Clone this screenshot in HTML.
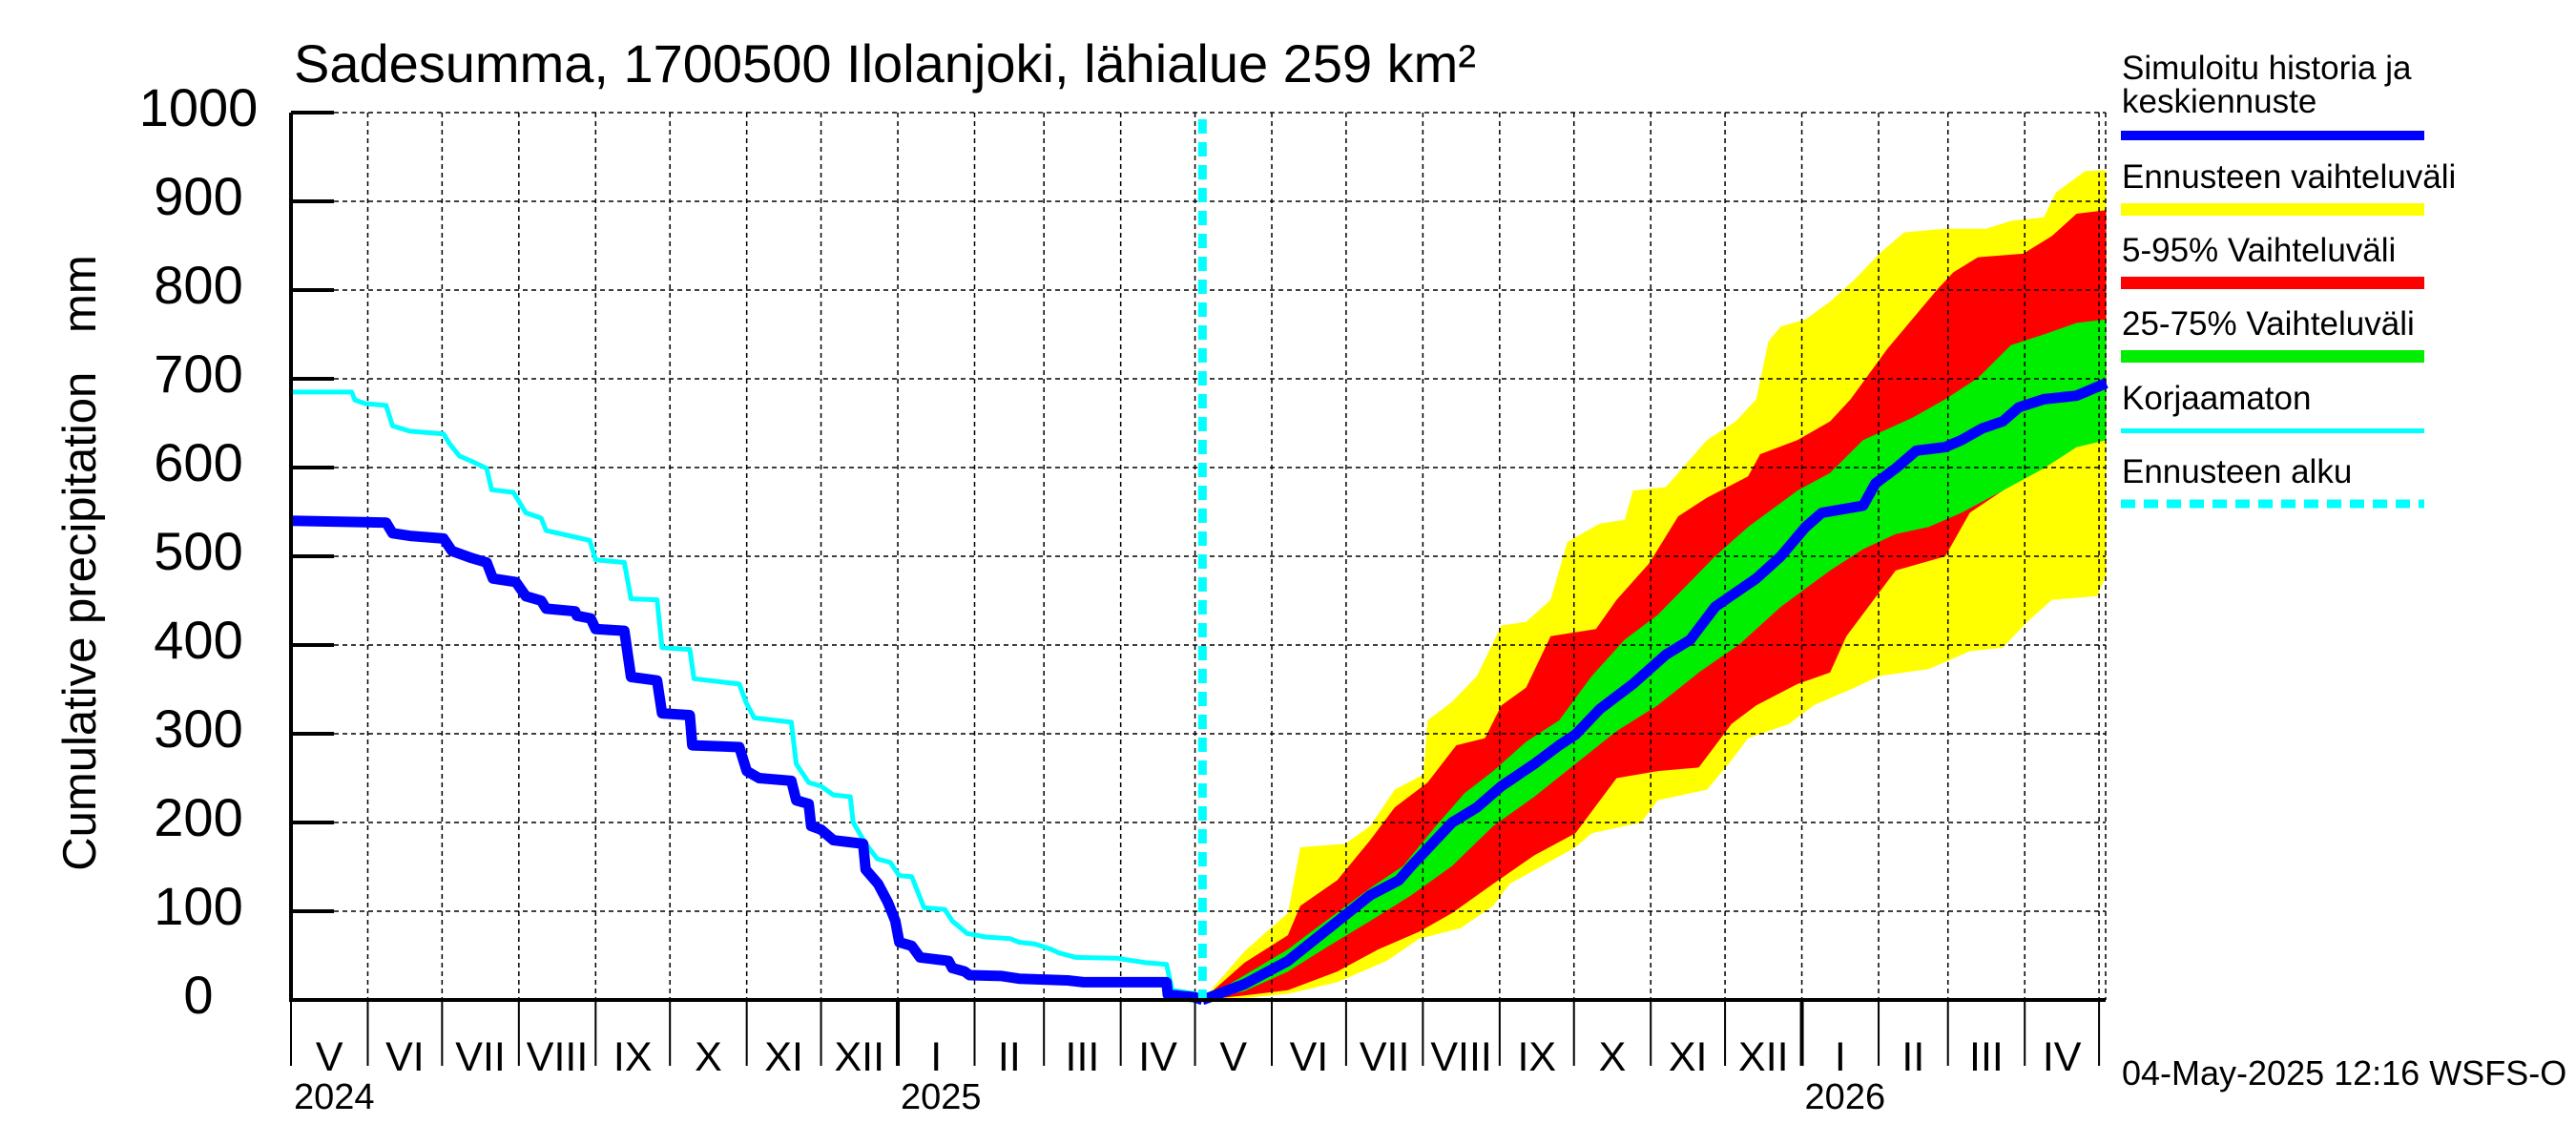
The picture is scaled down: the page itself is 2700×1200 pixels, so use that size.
<!DOCTYPE html>
<html><head><meta charset="utf-8"><style>
html,body{margin:0;padding:0;background:#fff;}
svg{display:block;font-family:"Liberation Sans",Arial,sans-serif;}
</style></head><body>
<svg id="chart" width="2700" height="1200" viewBox="0 0 2700 1200" xmlns="http://www.w3.org/2000/svg">
<rect x="0" y="0" width="2700" height="1200" fill="#fff"/>
<g id="bands"></g>
<g id="grid"></g>
<g id="lines"></g>
<g id="axes"></g>
<text x="308" y="86" font-size="56">Sadesumma, 1700500 Ilolanjoki, lähialue 259 km²</text>
<text transform="translate(100,590) rotate(-90)" text-anchor="middle" font-size="49" xml:space="preserve">Cumulative precipitation   mm</text>
<g id="legend">
<text x="2224" y="83" font-size="35">Simuloitu historia ja</text>
<text x="2224" y="118" font-size="35">keskiennuste</text>
<rect x="2223" y="137" width="318" height="10" fill="#0000ff"/>
<text x="2224" y="197" font-size="35">Ennusteen vaihteluväli</text>
<rect x="2223" y="213" width="318" height="13" fill="#ffff00"/>
<text x="2224" y="274" font-size="35">5-95% Vaihteluväli</text>
<rect x="2223" y="290" width="318" height="13" fill="#ff0000"/>
<text x="2224" y="351" font-size="35">25-75% Vaihteluväli</text>
<rect x="2223" y="367" width="318" height="13" fill="#00ee00"/>
<text x="2224" y="429" font-size="35">Korjaamaton</text>
<rect x="2223" y="449" width="318" height="5" fill="#00ffff"/>
<text x="2224" y="506" font-size="35">Ennusteen alku</text>
<line x1="2223" y1="528" x2="2541" y2="528" stroke="#00ffff" stroke-width="9" stroke-dasharray="15,9"/>
</g>
<text x="2224" y="1137" font-size="36">04-May-2025 12:16 WSFS-O</text>
</svg>
<script>
// days since 2024-05-01
const histDays = [0,38.4,41,48,61.6,65,73,79,81.5,90.8,94.8,101,103,114.7,115.4,121,123,134.6,137.3,147.8,149.8,161,162,181,184,189,202,204,209,210,214,219,231,232,237,241,244,245.6,250.6,254,265.5,267,272,274,287,294,313.6,320,353.5,354,365,368];
const histVals = [540,538,526,523,520,506,498,493,475,471,455,450,441,438,433,430,418,416,364,360,323,321,287,285,258,250,247,225,221,196,192,180,176,147,131,110,89,65,61,48,44,36,32,28,27,24,22,20,20,6,3,0];
const rawDays = [0,24.5,25.8,30,38.4,41,48,61.6,64,68,73,79,81,89.8,94.8,101,103,120.6,123,134.6,137.3,147.8,149.8,161,162.7,181,183.6,187,202,204,209,214,219,225.8,227,232,236.7,242,245.6,250.6,255.6,264,267,273,280.5,290.4,294,300.4,307,310,317,333.6,345,353.5,355.8,365,368];
const rawVals = [685,685,676,672,670,647,641,638,627,613,607,599,575,572,549,543,529,518,496,493,452,451,397,395,362,356,336,318,313,266,245,241,231,229,200,176,159,155,140,139,104,102,89,75,71,69,65,63,57,53,48,47,42,40,11,7,1];
const yellowTopDays = [368,385,402.5,407.5,425.7,435.7,445.6,457.2,458.9,468.8,478.8,488.7,498.7,508.6,515.3,528.5,538.5,541.8,555.1,561.7,571.7,583.3,591.6,596.5,601.5,611.5,621.4,631.4,641.3,651.3,667.9,684.4,694.4,707.7,712.6,724.3,732.9];
const yellowTop = [0,55,98,172,176,196,237,254,315,336,365,422,426,451,516,537,541,574,578,599,631,652,677,742,759,767,787,812,841,865,869,869,878,882,910,934,935];
const redTopDays = [368,385,402.5,407.5,422.4,435.7,445.6,458.9,470.5,482.1,488.7,498.7,508.6,526.9,535.2,548.4,560.1,571.7,588.3,593.2,608.2,621.4,629.7,644.6,664.5,671.2,681.1,699.4,711,720.9,732.9];
const redTop = [0,42,73,106,135,180,217,245,287,295,332,352,410,418,451,492,545,566,590,615,631,652,677,734,800,820,837,841,861,886,890];
const greenTopDays = [368,385,402.5,415.8,435.7,449,462.2,473.8,485.4,498.7,512,525.2,538.5,551.8,563.4,575,588.3,608.2,621.4,634.7,654.6,667.9,681.1,694.4,707.7,720.9,732.9];
const greenTop = [0,28,57,85,126,151,196,233,258,291,315,365,406,434,467,500,533,574,594,631,656,677,701,738,750,763,767];
const greenBotDays = [368,385,402.5,419.1,435.7,452.3,468.8,485.4,502,518.6,535.2,551.8,568.4,584.9,601.5,621.4,634.7,647.9,661.2,674.5,691.1,707.7,720.9,732.9];
const greenBot = [0,10,32,61,89,118,151,196,229,266,303,332,369,401,443,484,508,525,533,549,574,599,623,631];
const redBotDays = [368,385,402.5,422.4,439,455.6,468.8,485.4,502,518.6,535.2,551.8,568.4,581.6,591.6,608.2,621.4,628,647.9,667.9,677.8,691.1,704.3,714.3,732.9];
const redBot = [0,5,11,32,57,77,98,131,163,188,250,258,262,311,332,356,369,410,484,500,549,574,599,619,635];
const yellowBotDays = [368,385,402.5,422.4,442.3,455.6,472.2,485.4,492.1,518.6,525.2,545.1,551.8,571.7,581.6,588.3,604.8,614.8,631.4,641.3,661.2,667.9,677.8,691.1,701,711,729.2,732.9];
const yellowBot = [0,2,7,20,44,69,81,106,131,172,188,200,225,237,270,295,311,332,352,365,373,381,393,397,426,451,455,479];
const medianDays = [368,385,402.5,419.1,435.7,447.3,452.3,468.8,478.8,488.7,502,512,518.6,528.5,541.8,555.1,565,575,583.3,591.6,601.5,611.5,618.1,634.7,639.7,647.9,656.2,667.9,674.5,682.8,691.1,697.7,707.7,720.9,732.9];
const medianVals = [0,18,44,81,118,135,151,200,217,241,266,287,299,328,356,389,406,443,459,475,500,533,549,557,582,599,619,623,631,644,652,668,677,681,695];
const yTicks = [0,100,200,300,400,500,600,700,800,900,1000];
const monthLabels = ["V","VI","VII","VIII","IX","X","XI","XII","I","II","III","IV","V","VI","VII","VIII","IX","X","XI","XII","I","II","III","IV"];
const yearLabels = ["2024","2025","2026"];
const forecastStartDay = 368;

const NS="http://www.w3.org/2000/svg";
const X0=305, X1=2207, PXD=2.596, Y0=1048, PXV=0.93;
const xs=d=>X0+d*PXD;
const ys=v=>Y0-v*PXV;
function mk(tag,attrs,parent){const e=document.createElementNS(NS,tag);for(const k in attrs)e.setAttribute(k,attrs[k]);parent.appendChild(e);return e;}
const bands=document.getElementById('bands'),grid=document.getElementById('grid'),lines=document.getElementById('lines'),axes=document.getElementById('axes');
function poly(td,tv,bd,bv,color,name){
  const pts=[];
  for(let i=0;i<td.length;i++)pts.push(xs(td[i]).toFixed(1)+','+ys(tv[i]).toFixed(1));
  for(let i=bd.length-1;i>=0;i--)pts.push(xs(bd[i]).toFixed(1)+','+ys(bv[i]).toFixed(1));
  const p=mk('polygon',{points:pts.join(' '),fill:color},bands);
  
  
}
poly(yellowTopDays,yellowTop,yellowBotDays,yellowBot,'#ffff00','band-full-range');
poly(redTopDays,redTop,redBotDays,redBot,'#ff0000','band-5-95');
poly(greenTopDays,greenTop,greenBotDays,greenBot,'#00ee00','band-25-75');

const start=Date.UTC(2024,4,1);
const bounds=[];
for(let m=0;m<=24;m++){bounds.push((Date.UTC(2024,4+m,1)-start)/86400000);}
yTicks.forEach(v=>{
  if(v===0)return;
  const l=mk('line',{x1:X0,x2:X1,y1:ys(v),y2:ys(v),stroke:'#000','stroke-width':1.5,'stroke-dasharray':'5,4'},grid);
  
  
});
bounds.forEach((d,i)=>{
  if(i===0)return;
  const x=Math.min(xs(d),X1);
  const l=mk('line',{x1:x,x2:x,y1:ys(1000),y2:Y0,stroke:'#000','stroke-width':1.5,'stroke-dasharray':'5,4'},grid);
  
  
});
{const l=mk('line',{x1:X1,x2:X1,y1:ys(1000),y2:Y0,stroke:'#000','stroke-width':1.5,'stroke-dasharray':'5,4'},grid);

}

function line(days,vals,color,w,name){
  const pts=days.map((d,i)=>xs(d).toFixed(1)+','+ys(vals[i]).toFixed(1)).join(' ');
  const p=mk('polyline',{points:pts,fill:'none',stroke:color,'stroke-width':w,'stroke-linejoin':'round'},lines);
  
  
}
line(rawDays,rawVals,'#00ffff',5,'uncorrected-line');
line(histDays,histVals,'#0000ff',11,'simulated-history-line');
line(medianDays,medianVals,'#0000ff',11,'median-forecast-line');
{const l=mk('line',{x1:xs(forecastStartDay),x2:xs(forecastStartDay),y1:125,y2:Y0,stroke:'#00ffff','stroke-width':9,'stroke-dasharray':'15,9'},lines);

}

{const a=mk('line',{x1:X0,x2:X0,y1:ys(1000),y2:Y0+2,stroke:'#000','stroke-width':4},axes);


const b=mk('line',{x1:X0-2,x2:X1,y1:Y0,y2:Y0,stroke:'#000','stroke-width':4},axes);

}
yTicks.forEach(v=>{
  const t=mk('line',{x1:X0,x2:350,y1:ys(v),y2:ys(v),stroke:'#000','stroke-width':4},axes);
  
  
  const tx=mk('text',{x:208,y:ys(v)+14,'font-size':56,'text-anchor':'middle'},axes);
  tx.textContent=String(v);
  
  
});
bounds.forEach((d,i)=>{
  const x=Math.min(xs(d),X1);
  const isYear=(i===8||i===20);
  const t=mk('line',{x1:x,x2:x,y1:Y0,y2:1117,stroke:'#000','stroke-width':isYear?4:2},axes);
  
  
  if(i<monthLabels.length){
    const cx=(xs(d)+Math.min(xs(bounds[i+1]),X1))/2;
    const tx=mk('text',{x:cx,y:1122,'font-size':43,'text-anchor':'middle'},axes);
    tx.textContent=monthLabels[i];
    
    
  }
});
[0,8,20].forEach((bi,k)=>{
  const tx=mk('text',{x:xs(bounds[bi])+3,y:1162,'font-size':38},axes);
  tx.textContent=yearLabels[k];
  
  
});
</script>
</body></html>
